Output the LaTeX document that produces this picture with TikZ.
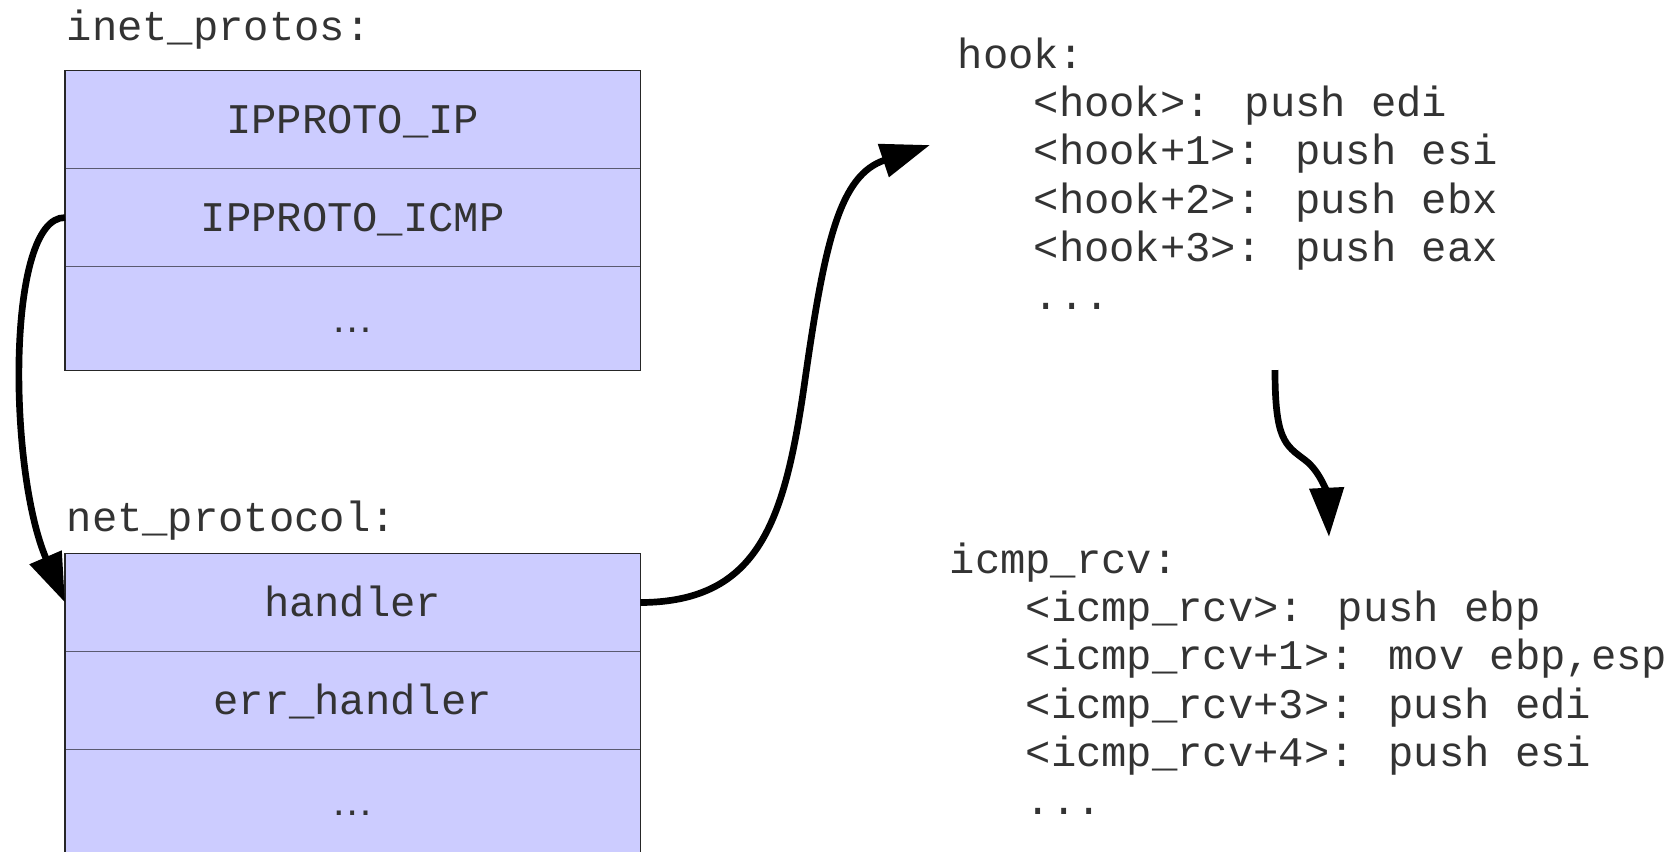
\documentclass[tikz,border=0pt]{standalone}
\usepackage{fontspec}
\newfontfamily\codefont{Liberation Mono}
\newfontfamily\dotsfont{Liberation Sans}
\usetikzlibrary{positioning,arrows.meta}
\definecolor{txt}{HTML}{333333}
\definecolor{rowfill}{HTML}{CCCCFF}
\definecolor{rowline}{HTML}{5A5A70}
\def\fnt{\codefont\fontsize{12}{14}\selectfont}
\def\rowh{.98cm}
\def\dotsh{1.035cm}
\def\lsep{48.3}
\tikzstyle{code}=[font=\fnt,text=txt,inner sep=0pt,anchor=base west]
\tikzstyle{row}=[rectangle,draw=rowline,fill=rowfill,line width=.35pt,minimum width=5.75cm,minimum height=\rowh,inner sep=0pt,outer sep=0pt,text height=8pt,text depth=0pt,font=\fnt,text=txt]
\tikzstyle{ptr}=[-{Triangle[length=14pt,width=9.5pt]},line width=1.9pt,black]

\begin{document}
\begin{tikzpicture}[x=.01cm,y=-.01cm]
			\useasboundingbox (0,0) rectangle (1675,851);
			% inet_protos table
			\node[code](inetlbl) at (66,40){inet\_protos:};
			\node[row,anchor=north west](ip) at (65,70.5){IPPROTO\_IP};
			\node[row,below=0pt of ip](icmp){IPPROTO\_ICMP};
			\node[row,below=0pt of icmp,minimum height=\dotsh](inetdots){\dotsfont …};
			\draw[black!85,line width=.35pt](ip.north west) rectangle (inetdots.south east);
			% net_protocol table
			\node[code](netlbl) at (66,531){net\_protocol:};
			\node[row,anchor=north west](handler) at (65,553.5){handler};
			\node[row,below=0pt of handler](errh){err\_handler};
			\node[row,below=0pt of errh,minimum height=\dotsh](netdots){\dotsfont …};
			\draw[black!85,line width=.35pt](handler.north west) rectangle (netdots.south east);
			% disassembly
			\node[code](hook) at (957,68.3){hook:};
			\foreach \asm [count=\i] in {{<hook>: push edi},{<hook+1>: push esi},{<hook+2>: push ebx},{<hook+3>: push eax}}
				\node[code](hook\i) at (1033,68.3+\lsep*\i){\asm};
			\node[code](hookdots) at (1033,68.3+\lsep*5){.{}.{}.};
			\node[code](rcv) at (949,573.3){icmp\_rcv:};
			\foreach \asm [count=\i] in {{<icmp\_rcv>: push ebp},{<icmp\_rcv+1>: mov ebp,esp},{<icmp\_rcv+3>: push edi},{<icmp\_rcv+4>: push esi}}
				\node[code](rcv\i) at (1025,573.3+\lsep*\i){\asm};
			\node[code](rcvdots) at (1025,573.3+\lsep*5){.{}.{}.};
			% pointers
			\coordinate (hookin) at (930,145);
			\coordinate (hookout) at (1275,370);
			\coordinate (rcvin) at (1329,537);
			\draw[ptr](icmp.west) .. controls (6,217) and (8,470) .. (handler.west);
			\draw[ptr](handler.east) .. controls (760,602) and (785,520) .. (805,380) .. controls (825,240) and (840,175) .. (hookin);
			\draw[ptr](hookout) .. controls (1275,440) and (1285,445) .. (1305,460) .. controls (1321,472) and (1327,495) .. (rcvin);
		\end{tikzpicture}
\end{document}
